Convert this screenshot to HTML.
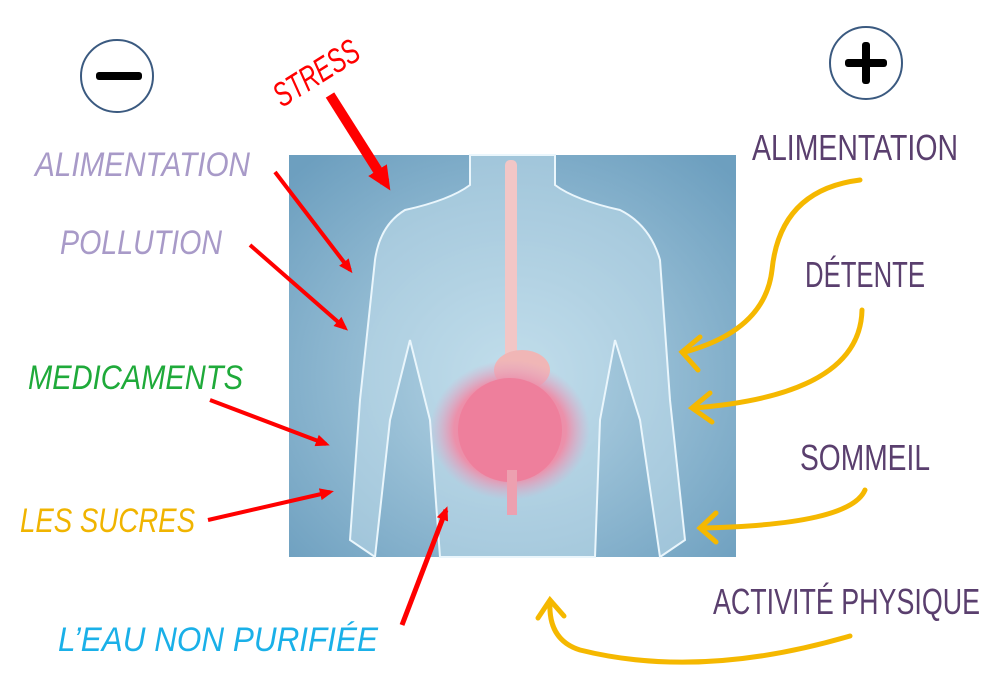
<!DOCTYPE html>
<html><head><meta charset="utf-8"><style>
body{margin:0;background:#fff;}
svg{display:block}
.r{font-family:"Liberation Sans",sans-serif;fill:#5a3f6e;font-size:36px}
.h{font-family:"Liberation Sans",sans-serif;font-style:italic;font-size:34px}
</style></head><body>
<svg width="1007" height="690" viewBox="0 0 1007 690" xmlns="http://www.w3.org/2000/svg">
<defs>
<radialGradient id="bg" cx="0.5" cy="0.55" r="0.7"><stop offset="0" stop-color="#b7d6e6"/><stop offset="1" stop-color="#6d9fbf"/></radialGradient>
<radialGradient id="gut" cx="0.5" cy="0.5" r="0.5"><stop offset="0" stop-color="#f07a9a"/><stop offset="0.7" stop-color="#ec90aa"/><stop offset="1" stop-color="#e0a6c8" stop-opacity="0"/></radialGradient>
<marker id="ar" markerUnits="userSpaceOnUse" markerWidth="14" markerHeight="14" refX="10" refY="7" orient="auto"><path d="M0,1 L14,7 L0,13 z" fill="#f00"/></marker>
<marker id="ar2" markerUnits="userSpaceOnUse" markerWidth="24" markerHeight="24" refX="14" refY="12" orient="auto"><path d="M0,1 L24,12 L0,23 z" fill="#f00"/></marker>
</defs>
<rect x="289" y="155" width="447" height="402" fill="url(#bg)"/>
<g fill="#cfe6f2" fill-opacity="0.45" stroke="#eaf6fc" stroke-width="2">
<path d="M470,155 L470,185 Q450,200 405,210 Q380,225 375,260 L360,400 L350,540 L375,557 L390,420 L410,340 L430,420 L440,557 L595,557 L600,420 L615,340 L640,420 L660,557 L685,540 L670,400 L660,260 Q650,225 620,210 Q575,200 555,185 L555,155 Z"/>
</g>
<rect x="505" y="160" width="12" height="200" rx="5" fill="#f2c6c6"/>
<ellipse cx="522" cy="370" rx="28" ry="20" fill="#f0b6b6"/>
<ellipse cx="510" cy="430" rx="80" ry="70" fill="url(#gut)"/>
<ellipse cx="510" cy="430" rx="52" ry="52" fill="#ee7f9c"/>
<rect x="507" y="470" width="10" height="45" fill="#eda0b0"/>
<circle cx="117" cy="76" r="36" fill="none" stroke="#3b5a80" stroke-width="2"/>
<rect x="96" y="72" width="46" height="8" rx="3" fill="#000"/>
<circle cx="866" cy="63" r="36" fill="none" stroke="#3b5a80" stroke-width="2"/>
<rect x="845" y="59" width="42" height="8" rx="3" fill="#000"/><rect x="862" y="42" width="8" height="42" rx="3" fill="#000"/>
<g stroke="#f00" fill="none">
<line x1="330" y1="95" x2="385" y2="182" stroke-width="10" marker-end="url(#ar2)" />
<line x1="275" y1="172" x2="350" y2="270" stroke-width="4" marker-end="url(#ar)"/>
<line x1="250" y1="245" x2="345" y2="328" stroke-width="4" marker-end="url(#ar)"/>
<line x1="210" y1="400" x2="326" y2="444" stroke-width="4" marker-end="url(#ar)"/>
<line x1="208" y1="520" x2="330" y2="492" stroke-width="4" marker-end="url(#ar)"/>
<line x1="402" y1="625" x2="446" y2="510" stroke-width="5" marker-end="url(#ar)"/>
</g>
<g stroke="#f5b800" stroke-width="5" fill="none" stroke-linecap="round">
<path d="M860,180 Q780,190 772,270 Q765,330 685,352"/><path d="M700,337 L682,352 L698,370"/>
<path d="M862,310 Q860,395 693,408"/><path d="M710,393 L692,408 L712,422"/>
<path d="M865,490 Q850,525 700,528"/><path d="M716,513 L700,528 L716,542"/>
<path d="M850,636 Q700,680 580,650 Q548,640 550,602"/><path d="M538,618 L550,600 L564,616"/>
</g>
<text class="r" x="752" y="160" textLength="206" lengthAdjust="spacingAndGlyphs">ALIMENTATION</text>
<text class="r" x="805" y="287" textLength="120" lengthAdjust="spacingAndGlyphs">DÉTENTE</text>
<text class="r" x="800" y="470" textLength="130" lengthAdjust="spacingAndGlyphs">SOMMEIL</text>
<text class="r" x="713" y="614" textLength="267" lengthAdjust="spacingAndGlyphs">ACTIVITÉ PHYSIQUE</text>
<text class="h" x="35" y="176" fill="#a89ac8" textLength="215" lengthAdjust="spacingAndGlyphs">ALIMENTATION</text>
<text class="h" x="60" y="254" fill="#a89ac8" textLength="162" lengthAdjust="spacingAndGlyphs">POLLUTION</text>
<text class="h" x="28" y="389" fill="#1faa3a" textLength="215" lengthAdjust="spacingAndGlyphs">MEDICAMENTS</text>
<text class="h" x="20" y="532" fill="#f0b400" textLength="175" lengthAdjust="spacingAndGlyphs">LES SUCRES</text>
<text class="h" x="58" y="651" fill="#1ab0e8" textLength="320" lengthAdjust="spacingAndGlyphs">L’EAU NON PURIFIÉE</text>
<text class="h" x="0" y="0" fill="#f00" font-size="40" transform="translate(282,108) rotate(-32)" textLength="95" lengthAdjust="spacingAndGlyphs">STRESS</text>
</svg>
</body></html>
